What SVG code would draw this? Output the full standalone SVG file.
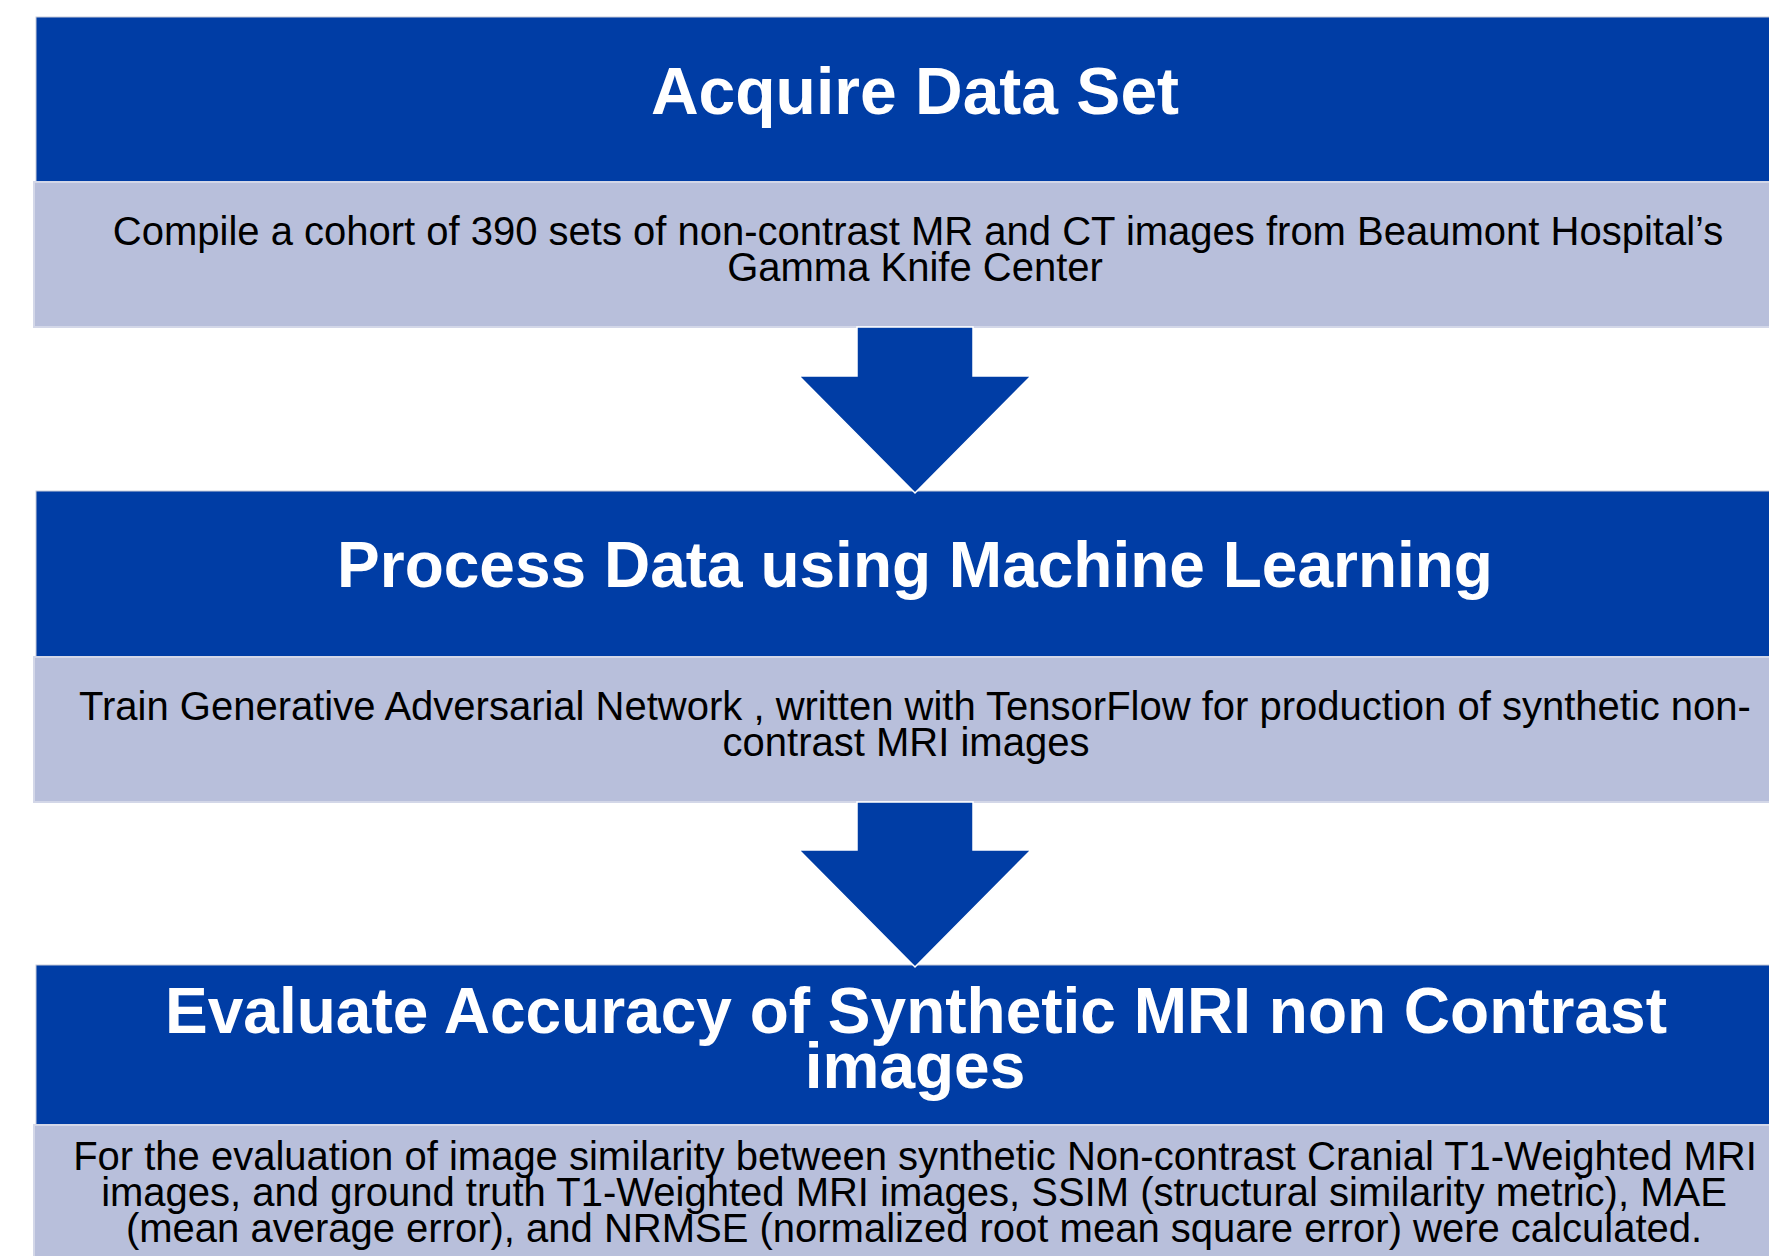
<svg xmlns="http://www.w3.org/2000/svg" width="1769" height="1256" viewBox="0 0 1769 1256">
  <style>
    .hdr { fill: #003DA5; stroke: #C8CCDA; stroke-width: 1; }
    .bdy { fill: #B8BFDB; stroke: #D3D7E8; stroke-width: 2; }
    .ttl { font-family: "Liberation Sans", Arial, sans-serif; font-weight: bold; fill: #FFFFFF; text-anchor: middle; }
    .txt { font-family: "Liberation Sans", Arial, sans-serif; font-size: 40px; fill: #000000; text-anchor: middle; }
    .arr { fill: #003DA5; stroke: #FFFFFF; stroke-width: 1.5; stroke-linejoin: miter; }
  </style>
  <rect width="1769" height="1256" fill="#FFFFFF"/>

  <g id="node-acquire">
    <rect class="hdr" x="36" y="17" width="1760" height="165"/>
    <text class="ttl" x="915" y="114" font-size="66">Acquire Data Set</text>
    <rect class="bdy" x="34" y="182" width="1762" height="145"/>
    <text class="txt" x="918" y="245">Compile a cohort of 390 sets of non-contrast MR and CT images from Beaumont Hospital’s</text>
    <text class="txt" x="915" y="281">Gamma Knife Center</text>
  </g>

  <g id="node-process">
    <rect class="hdr" x="36" y="491" width="1760" height="166"/>
    <text class="ttl" x="915" y="587" font-size="64">Process Data using Machine Learning</text>
    <rect class="bdy" x="34" y="657" width="1762" height="145"/>
    <text class="txt" x="915" y="720">Train Generative Adversarial Network , written with TensorFlow for production of synthetic non-</text>
    <text class="txt" x="906" y="756">contrast MRI images</text>
  </g>

  <g id="node-evaluate">
    <rect class="hdr" x="36" y="965" width="1760" height="160"/>
    <text class="ttl" x="916" y="1033" font-size="64">Evaluate Accuracy of Synthetic MRI non Contrast</text>
    <text class="ttl" x="915" y="1088" font-size="64">images</text>
    <rect class="bdy" x="34" y="1125" width="1762" height="145"/>
    <text class="txt" x="915" y="1170">For the evaluation of image similarity between synthetic Non-contrast Cranial T1-Weighted MRI</text>
    <text class="txt" x="914" y="1206">images, and ground truth T1-Weighted MRI images, SSIM (structural similarity metric), MAE</text>
    <text class="txt" x="914" y="1242">(mean average error), and NRMSE (normalized root mean square error) were calculated.</text>
  </g>

  <g id="connectors">
    <polygon class="arr" points="857,327 973,327 973,376 1031,376 915,493 799,376 857,376"/>
    <polygon class="arr" points="857,802 973,802 973,850 1031,850 915,967 799,850 857,850"/>
  </g>
</svg>
